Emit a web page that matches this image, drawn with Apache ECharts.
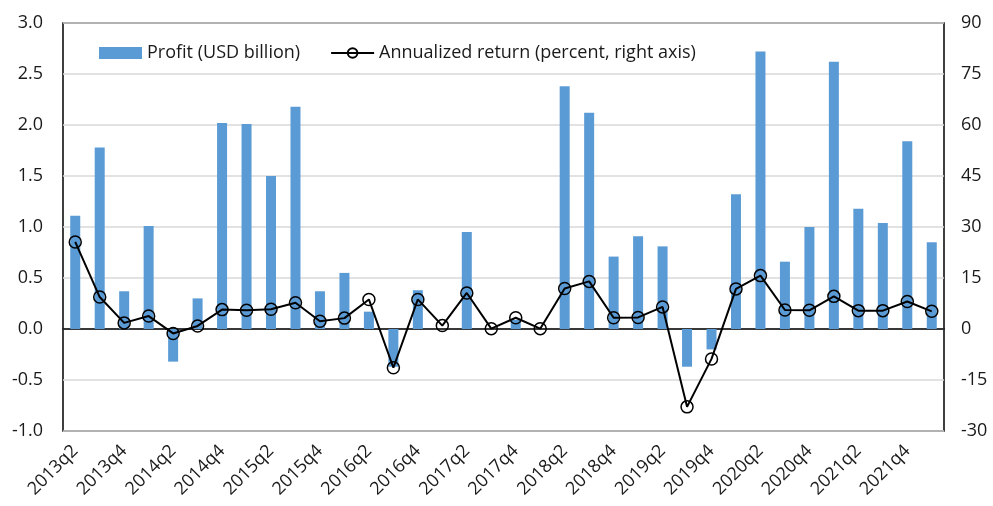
<!DOCTYPE html>
<html>
<head>
<meta charset="utf-8">
<script src="https://cdn.jsdelivr.net/npm/echarts@6/dist/echarts.min.js"></script>
<style>
  html, body { margin: 0; padding: 0; background: #fff; }
  #chart { width: 993px; height: 506px; }
</style>
</head>
<body>
<div id="chart"></div>
<script>
var quarters = [
    '2013q2', '2013q3', '2013q4', '2014q1', '2014q2', '2014q3', '2014q4', '2015q1', '2015q2', '2015q3',
    '2015q4', '2016q1', '2016q2', '2016q3', '2016q4', '2017q1', '2017q2', '2017q3', '2017q4', '2018q1',
    '2018q2', '2018q3', '2018q4', '2019q1', '2019q2', '2019q3', '2019q4', '2020q1', '2020q2', '2020q3',
    '2020q4', '2021q1', '2021q2', '2021q3', '2021q4', '2022q1'
];
// profit, USD billion (left axis)
var profit = [
    1.11, 1.78, 0.37, 1.01, -0.32, 0.30, 2.02, 2.01, 1.50, 2.18,
    0.37, 0.55, 0.17, -0.37, 0.38, 0.00, 0.95, 0.00, 0.09, 0.00,
    2.38, 2.12, 0.71, 0.91, 0.81, -0.37, -0.20, 1.32, 2.72, 0.66,
    1.00, 2.62, 1.18, 1.04, 1.84, 0.85
];
// annualized return, percent (right axis)
var annualReturn = [
    25.6, 9.4, 1.8, 3.8, -1.3, 0.9, 5.7, 5.5, 5.8, 7.7,
    2.3, 3.2, 8.7, -11.4, 8.7, 1.0, 10.6, 0.1, 3.3, 0.1,
    11.9, 14.0, 3.3, 3.4, 6.5, -22.9, -8.8, 11.8, 15.7, 5.6,
    5.5, 9.6, 5.4, 5.4, 8.1, 5.2
];

var chart = echarts.init(document.getElementById('chart'));
var txt = '#1a1a1a';
var fnt = '"Open Sans", "Noto Sans", sans-serif';
var fs = 18;

var option = {
    animation: false,
    textStyle: { fontFamily: fnt },
    grid: {
        left: 63, right: 49, top: 23, bottom: 75,
        outerBoundsMode: 'none',
        containLabel: false,
        show: true, borderColor: '#000', borderWidth: 1.5
    },
    legend: {
        left: 99, top: 44,
        padding: 0,
        itemGap: 30,
        textStyle: { fontSize: fs, color: txt, fontFamily: fnt },
        data: [
            { name: 'Profit (USD billion)', icon: 'rect' },
            { name: 'Annualized return (percent, right axis)' }
        ],
        itemWidth: 43, itemHeight: 12
    },
    xAxis: {
        type: 'category',
        data: quarters,
        axisLine: { onZero: true, lineStyle: { color: '#000', width: 1.5 } },
        axisTick: { show: false },
        axisLabel: {
            interval: 1, rotate: 45, fontSize: fs, color: txt, margin: 17,
            fontFamily: fnt
        }
    },
    yAxis: [
        {
            type: 'value', min: -1, max: 3, interval: 0.5,
            axisLine: { show: false }, axisTick: { show: false },
            splitLine: { lineStyle: { color: '#d9d9d9', width: 1.5 } },
            axisLabel: {
                fontSize: fs, color: txt, margin: 20,
                formatter: function (v) { return v.toFixed(1); }
            }
        },
        {
            type: 'value', min: -30, max: 90, interval: 15,
            axisLine: { show: false }, axisTick: { show: false },
            splitLine: { show: false },
            axisLabel: { fontSize: fs, color: txt, margin: 17 }
        }
    ],
    series: [
        {
            name: 'Profit (USD billion)',
            type: 'bar',
            yAxisIndex: 0,
            barWidth: 10,
            data: profit,
            itemStyle: { color: '#5b9bd5' }
        },
        {
            name: 'Annualized return (percent, right axis)',
            type: 'line',
            yAxisIndex: 1,
            data: annualReturn,
            symbol: 'circle',
            symbolSize: 12,
            lineStyle: { color: '#000', width: 2 },
            itemStyle: { color: 'rgba(0,0,0,0)', borderColor: '#000', borderWidth: 1.5 }
        }
    ]
};
chart.setOption(option);
window.addEventListener('resize', function () {
    chart.resize();
});
</script>
</body>
</html>
